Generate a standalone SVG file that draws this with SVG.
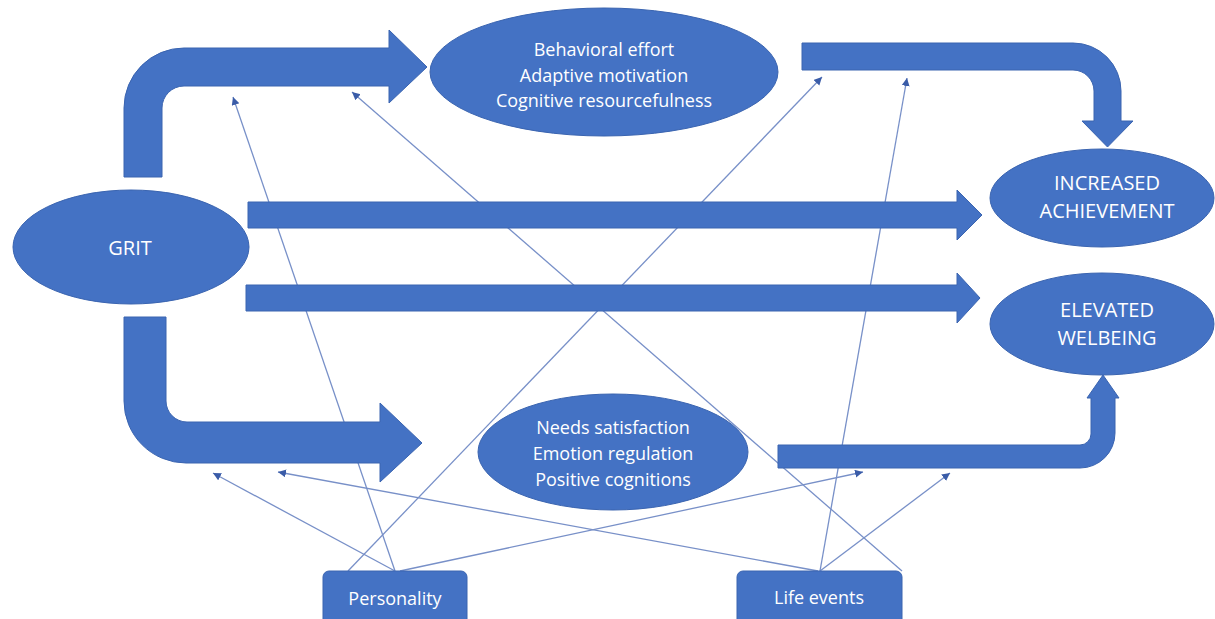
<svg xmlns="http://www.w3.org/2000/svg" width="1215" height="619" viewBox="0 0 1215 619">
<style>
.shape{fill:#4472C4;stroke:#3A64B0;stroke-width:1}
.lbl{fill:#FFFFFF;font-family:"Open Sans","Noto Sans","Liberation Sans",sans-serif;font-size:18px;text-anchor:middle}
.cap{font-size:20px}
.conn{stroke:#7890C8;stroke-width:1.3;fill:none;marker-end:url(#ah)}
</style>
<defs>
<marker id="ah" markerUnits="userSpaceOnUse" markerWidth="10" markerHeight="10" refX="8" refY="4" orient="auto">
<path d="M0,0 L8,4 L0,8 Z" fill="#3A5CA8"/>
</marker>
</defs>
<rect width="1215" height="619" fill="#FFFFFF"/>
<g id="connectors">
<line class="conn" x1="348" y1="571" x2="822" y2="77"/>
<line class="conn" x1="902" y1="571" x2="352" y2="92"/>
<line class="conn" x1="820" y1="571" x2="907" y2="78"/>
<line class="conn" x1="395" y1="571" x2="233" y2="97"/>
<line class="conn" x1="395" y1="571" x2="213" y2="473"/>
<line class="conn" x1="400" y1="571" x2="863" y2="472"/>
<line class="conn" x1="820" y1="571" x2="950" y2="473"/>
<line class="conn" x1="818" y1="571" x2="278" y2="472"/>
</g>
<g id="arrows">
<path id="arrow-grit-top" class="shape" d="M124,177 L124,108 A60,60 0 0 1 184,48 L389,48 L389,30 L427,67 L389,103 L389,86 L184,86 A22,22 0 0 0 162,108 L162,177 Z"/>
<path id="arrow-top-achievement" class="shape" d="M802,43 L1073,43 A48,48 0 0 1 1121,91 L1121,121 L1133,121 L1107.5,147 L1082,121 L1094,121 L1094,91 A21,21 0 0 0 1073,70 L802,70 Z"/>
<path id="arrow-grit-achievement" class="shape" d="M248,202 L957,202 L957,190 L982,215 L957,240 L957,228 L248,228 Z"/>
<path id="arrow-grit-welbeing" class="shape" d="M246,285 L957,285 L957,273 L980,298 L957,323 L957,311 L246,311 Z"/>
<path id="arrow-grit-bottom" class="shape" d="M124,317 L166,317 L166,401 A21,21 0 0 0 187,422 L380,422 L380,403 L422,443 L380,482 L380,463 L186,463 A62,62 0 0 1 124,401 Z"/>
<path id="arrow-bottom-welbeing" class="shape" d="M778,445 L1080,445 A11,11 0 0 0 1091,434 L1091,398 L1087,398 L1103,375 L1119,398 L1115,398 L1115,433 A35,35 0 0 1 1080,468 L778,468 Z"/>
</g>
<g id="grit">
<ellipse class="shape" cx="131" cy="247" rx="118" ry="57"/>
<text class="lbl cap" x="130" y="255">GRIT</text>
</g>
<g id="behavioral">
<ellipse class="shape" cx="604" cy="72" rx="174" ry="64"/>
<text class="lbl" x="604" y="56">Behavioral effort</text>
<text class="lbl" x="604" y="82">Adaptive motivation</text>
<text class="lbl" x="604" y="107">Cognitive resourcefulness</text>
</g>
<g id="needs">
<ellipse class="shape" cx="613" cy="452" rx="135" ry="58"/>
<text class="lbl" x="613" y="434">Needs satisfaction</text>
<text class="lbl" x="613" y="460">Emotion regulation</text>
<text class="lbl" x="613" y="486">Positive cognitions</text>
</g>
<g id="achievement">
<ellipse class="shape" cx="1102" cy="198" rx="112" ry="49"/>
<text class="lbl cap" x="1107" y="190">INCREASED</text>
<text class="lbl cap" x="1107" y="218">ACHIEVEMENT</text>
</g>
<g id="welbeing">
<ellipse class="shape" cx="1102" cy="324" rx="112" ry="51"/>
<text class="lbl cap" x="1107" y="317">ELEVATED</text>
<text class="lbl cap" x="1107" y="345">WELBEING</text>
</g>
<g id="personality">
<rect class="shape" x="323" y="571" width="144" height="60" rx="6"/>
<text class="lbl" x="395" y="605">Personality</text>
</g>
<g id="life-events">
<rect class="shape" x="737" y="571" width="165" height="60" rx="6"/>
<text class="lbl" x="819" y="604">Life events</text>
</g>
</svg>
